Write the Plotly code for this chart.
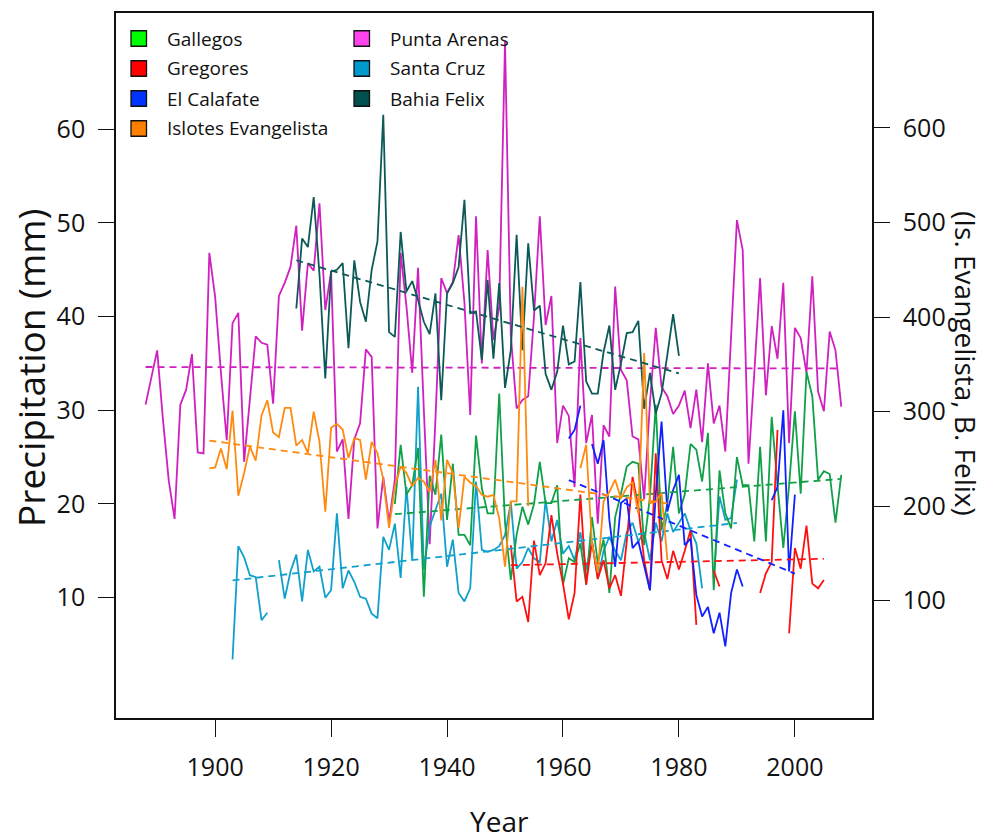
import numpy as np
import plotly.graph_objects as go

# ---------------- data (annual precipitation) ----------------
# Punta Arenas, mm (left axis)
pa_years = list(range(1888, 2009))
pa_vals = [
    30.6, 33.5, 36.4, 29.0, 22.5, 18.4, 30.6, 32.2, 36.0, 25.5, 25.4, 46.8,   # 1888-1899
    42.1, 34.0, 26.8, 39.3, 40.4, 24.5, 31.2, 37.9, 37.2, 37.0,               # 1900-1909
    30.7, 42.2, 43.6, 45.3, 49.7, 38.5, 45.7, 44.9, 52.1, 40.7,               # 1910-1919
    44.8, 25.6, 26.9, 18.4, 26.9, 28.6, 36.5, 35.7, 17.4, 22.9,               # 1920-1929
    18.1, 22.6, 46.8, 41.1, 34.0, 45.2, 30.0, 15.7, 29.0, 44.1,               # 1930-1939
    42.5, 43.7, 48.7, 41.5, 29.5, 50.7, 35.0, 47.1, 37.5, 41.0,               # 1940-1949
    69.3, 38.0, 30.2, 31.1, 31.5, 40.0, 50.7, 39.1, 42.2, 26.5,               # 1950-1959
    30.5, 29.4, 21.8, 37.7, 26.5, 29.5, 17.9, 28.4, 27.2, 43.2,               # 1960-1969
    34.3, 33.2, 27.2, 26.9, 20.5, 30.8, 38.8, 32.5, 31.5, 29.6,               # 1970-1979
    30.5, 32.1, 28.1, 32.2, 26.6, 35.0, 28.6, 30.5, 25.6, 38.0,               # 1980-1989
    50.3, 47.1, 24.3, 34.0, 44.1, 31.6, 39.0, 35.5, 43.6, 26.5,               # 1990-1999
    38.8, 37.7, 34.0, 44.3, 32.0, 29.9, 38.4, 36.4, 30.4,                     # 2000-2008
]

# Bahia Felix, mm (right axis)
bf_years = list(range(1914, 1981))
bf_vals = [
    409, 483, 474, 527, 445, 335,                                             # 1914-1919
    448, 450, 457, 367, 460, 416, 395, 450, 480, 614,                         # 1920-1929
    384, 379, 490, 427, 438, 418, 395, 382, 425, 312,                         # 1930-1939
    425, 436, 453, 524, 404, 406, 355, 439, 356, 436,                         # 1940-1949
    325, 365, 487, 365, 478, 407, 412, 340, 323, 342,                         # 1950-1959
    391, 350, 353, 437, 332, 319, 319, 363, 391, 323,                         # 1960-1969
    351, 383, 384, 396, 303, 341, 298, 319, 360, 403,                         # 1970-1979
    359,                                                                      # 1980
]

# Islotes Evangelista, mm (right axis)
ie_years = list(range(1899, 1979))
ie_vals = [
    240,                                                                      # 1899
    241, 261, 239, 301, 211, 235, 263, 248, 296, 312,                         # 1900-1909
    278, 273, 304, 304, 264, 270, 256, 300, 268, 194,                         # 1910-1919
    283, 287, 281, 251, 272, 270, 228, 268, 256, 228,                         # 1920-1929
    177, 221, 242, 235, 221, 230, 226, 215, 249, 185,                         # 1930-1939
    249, 235, 177, 231, 225, 221, 212, 210, 212, 187,                         # 1940-1949
    136, 205, 205, 432, 200, None, None, None, None, None,                    # 1950-1959
    None, None, None, 240, 265, 160, 130, 205, 215, 228,                      # 1960-1969
    208, 220, 225, 192, 362, 203, 205, 214, 143,                              # 1970-1978
]

# Santa Cruz, mm (left axis)
sc_years = list(range(1903, 1991))
sc_vals = [
    3.4, 15.5, 14.3, 12.4, 12.2, 7.6, 8.4,                                    # 1903-1909
    None, 14.0, 9.9, 12.8, 14.6, 9.6, 15.1, 12.8, 13.3, 10.0,                 # 1910-1919
    10.8, 19.0, 11.0, 12.9, 11.7, 10.1, 9.9, 8.3, 7.8, 16.5,                  # 1920-1929
    15.1, 17.9, 12.1, 21.8, 14.0, 32.5, 13.0, 17.6, 19.4, 21.1,               # 1930-1939
    13.3, 16.2, 10.5, 9.6, 11.0, 22.4, 15.1, 14.9, 15.1, 15.5,                # 1940-1949
    16.7, 20.2, 13.1, 13.8, 15.3, 14.2, 13.8, 20.4, 16.0, 18.3,               # 1950-1959
    14.7, 15.5, 14.0, 17.0, 13.0, 16.0, 12.0, 15.0, 16.5, 15.0,               # 1960-1969
    14.0, 17.0, 18.0, 16.0, 17.0, 14.0, 18.0, 16.0, 19.0, 17.0,               # 1970-1979
    18.0, 19.0, 17.2, 15.8, 11.0, None, 12.1, 20.8, 18.3, 18.5,               # 1980-1989
    22.6,                                                                     # 1990
]

# Gallegos, mm (left axis)
ga_years = list(range(1931, 2009))
ga_vals = [
    20.0, 26.3, 21.0, 22.0, 26.0, 10.1, 23.0, 21.0, 27.4,                     # 1931-1939
    18.3, 24.3, 16.7, 16.7, 15.6, 27.3, 21.7, 19.0, 19.0, 31.8,               # 1940-1949
    18.0, 11.9, 16.7, 19.7, 17.8, 20.0, 24.5, 20.1, 20.1, 22.0,               # 1950-1959
    11.4, 14.2, 13.8, 15.8, 11.4, 18.6, 13.7, 16.2, 10.5, 18.6,               # 1960-1969
    21.1, 24.0, 24.5, 24.3, 15.6, 20.8, 30.6, 17.2, 20.0, 26.1,               # 1970-1979
    19.0, 21.0, 26.4, 25.8, 22.4, 27.6, 10.8, 23.6, 19.0, 17.4,               # 1980-1989
    25.0, 22.0, 22.0, 16.0, 26.1, 16.0, 29.3, 22.0, 15.3, 22.0,               # 1990-1999
    29.9, 21.1, 34.1, 31.5, 22.6, 23.5, 23.2, 18.0, 23.1,                     # 2000-2008
]

# Gregores, mm (left axis)
gr_years = list(range(1951, 2006))
gr_vals = [
    15.6, 9.6, 10.1, 7.4, 16.1, 12.4, 13.7, 18.8, 14.7,                       # 1951-1959
    11.5, 7.7, 10.5, 21.0, 11.4, 16.0, 12.0, 14.0, 11.0, 12.4,                # 1960-1969
    10.2, 16.0, 22.9, 19.7, 14.0, 10.8, 25.4, 14.0, 12.0, 15.0,               # 1970-1979
    13.0, 15.0, 17.2, 7.1, None, None, 12.9, 11.2, None, None,                # 1980-1989
    None, None, None, None, 10.5, 12.6, 13.8, 27.9, None, 6.2,                # 1990-1999
    15.3, 13.1, 17.7, 11.5, 11.0, 11.9,                                       # 2000-2005
]

# El Calafate, mm (left axis)
ec_years = list(range(1961, 2001))
ec_vals = [
    27.0, 27.9, 30.5, None, 26.4, 24.3, 26.8, 18.3, 13.3,                     # 1961-1969
    20.1, 20.6, 15.3, 16.0, 13.5, 10.8, 21.0, 28.8, 19.2, 21.5,               # 1970-1979
    23.1, 15.6, 16.3, 10.3, 8.0, 9.0, 6.2, 8.4, 4.8, 10.5,                    # 1980-1989
    13.0, 11.2, None, None, None, None, 20.4, 21.8, 30.0, 12.8,               # 1990-1999
    21.0,                                                                     # 2000
]

# ---------------- styling ----------------
FONT = "Open Sans"
INK = "#111111"
series = [
    # name, years, values, line colour, legend colour, axis
    ("Punta Arenas", pa_years, pa_vals, "#d020c0", "#ff44ee", "y"),
    ("Bahia Felix", bf_years, bf_vals, "#0b5a58", "#005050", "y2"),
    ("Islotes Evangelista", ie_years, ie_vals, "#ff8a10", "#ff8000", "y2"),
    ("Santa Cruz", sc_years, sc_vals, "#10a0cc", "#0099cc", "y"),
    ("Gallegos", ga_years, ga_vals, "#10a048", "#00ff00", "y"),
    ("Gregores", gr_years, gr_vals, "#ff1010", "#ff0000", "y"),
    ("El Calafate", ec_years, ec_vals, "#1020ff", "#0033ff", "y"),
]

legend_cols = [
    ["Gallegos", "Gregores", "El Calafate", "Islotes Evangelista"],
    ["Punta Arenas", "Santa Cruz", "Bahia Felix"],
]

fig = go.Figure()


def linear_trend(years, vals):
    xs = np.array([y for y, v in zip(years, vals) if v is not None], dtype=float)
    ys = np.array([v for v in vals if v is not None], dtype=float)
    slope, icpt = np.polyfit(xs, ys, 1)
    ends = np.array([xs.min(), xs.max()])
    return ends, slope * ends + icpt


for name, yrs, vals, col, _, ax in series:
    fig.add_trace(go.Scatter(
        x=yrs, y=vals, mode="lines", name=name, yaxis=ax,
        line=dict(color=col, width=1.8), connectgaps=False, showlegend=False,
    ))

for name, yrs, vals, col, _, ax in series:
    tx, ty = linear_trend(yrs, vals)
    fig.add_trace(go.Scatter(
        x=tx, y=ty, mode="lines", yaxis=ax, showlegend=False, hoverinfo="skip",
        line=dict(color=col, width=1.8, dash="7px,5px"),
    ))

# ---------------- layout geometry ----------------
W, H = 984, 839
L, R, T, B = 116, 112, 13, 121
PW, PH = W - L - R, H - T - B


def px_x(px):
    return (px - L) / PW


def px_y(py):
    return (H - B - py) / PH


shapes = []
annotations = []
leg_color = {s[0]: s[4] for s in series}
col_x = [131, 354]
txt_x = [165, 388]
row_y = [38.5, 68.5, 98.5, 128.5]
for ci, names in enumerate(legend_cols):
    for ri, nm in enumerate(names):
        cy = row_y[ri]
        shapes.append(dict(
            type="rect", xref="paper", yref="paper",
            x0=px_x(col_x[ci]), x1=px_x(col_x[ci] + 15.5),
            y0=px_y(cy + 7.75), y1=px_y(cy - 7.75),
            fillcolor=leg_color[nm], line=dict(color=INK, width=1.3),
        ))
        annotations.append(dict(
            xref="paper", yref="paper", x=px_x(txt_x[ci]), y=px_y(cy),
            xanchor="left", yanchor="middle", text=nm, showarrow=False,
            font=dict(family=FONT, size=19, color=INK),
        ))

# axis titles
annotations.append(dict(
    xref="paper", yref="paper", x=px_x(499), y=px_y(842), xanchor="center",
    yanchor="bottom", text="Year", showarrow=False,
    font=dict(family=FONT, size=28, color=INK),
))
annotations.append(dict(
    xref="paper", yref="paper", x=px_x(31), y=px_y(368), xanchor="center",
    yanchor="middle", text="Precipitation (mm)", showarrow=False, textangle=-90,
    font=dict(family=FONT, size=37, color=INK),
))
annotations.append(dict(
    xref="paper", yref="paper", x=px_x(966), y=px_y(363), xanchor="center",
    yanchor="middle", text="(Is. Evangelista, B. Felix)", showarrow=False,
    textangle=90, font=dict(family=FONT, size=28, color=INK),
))

axis_common = dict(
    showgrid=False, zeroline=False, showline=True, linecolor=INK,
    linewidth=1.6, ticks="outside", tickcolor=INK, tickwidth=1,
    tickfont=dict(family=FONT, size=25, color=INK),
)

fig.update_layout(
    width=W, height=H,
    margin=dict(l=L, r=R, t=T, b=B, pad=0),
    paper_bgcolor="white", plot_bgcolor="white",
    showlegend=False,
    shapes=shapes, annotations=annotations,
    xaxis=dict(
        range=[1882.9, 2013.3], tickvals=[1900, 1920, 1940, 1960, 1980, 2000],
        ticklen=17, ticklabelstandoff=9, mirror=True, **axis_common,
    ),
    yaxis=dict(
        range=[-2.84, 72.4], tickvals=[10, 20, 30, 40, 50, 60],
        ticklen=16, ticklabelstandoff=8, **axis_common,
    ),
    yaxis2=dict(
        range=[-24.1, 721.6], tickvals=[100, 200, 300, 400, 500, 600],
        overlaying="y", side="right", ticklen=16, ticklabelstandoff=8,
        **axis_common,
    ),
)

fig.write_html("out.html")
